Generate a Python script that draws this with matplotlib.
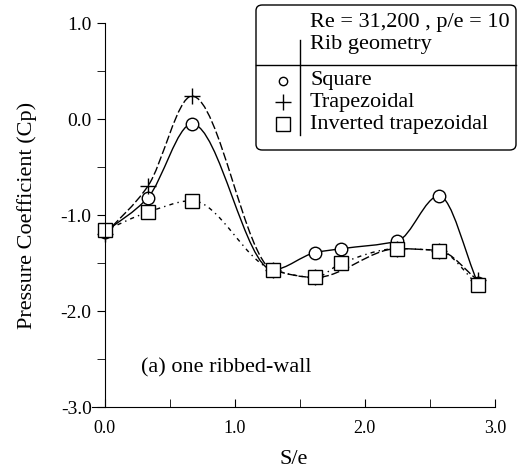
import numpy as np
import matplotlib
matplotlib.use("Agg")
import matplotlib.pyplot as plt
from matplotlib.path import Path
from matplotlib.patches import PathPatch, FancyBboxPatch
from matplotlib.lines import Line2D

plt.rcParams["font.family"] = ["Liberation Serif", "DejaVu Serif"]

# Measured pressure coefficient along the ribbed wall
se_square = [0.0, 0.33, 0.67, 1.29, 1.62, 1.82, 2.25, 2.57, 2.87]
cp_square = [-1.18, -0.82, -0.05, -1.57, -1.39, -1.35, -1.27, -0.80, -1.71]

se_trap = [0.0, 0.33, 0.67, 1.29, 1.62, 2.25, 2.57, 2.87]
cp_trap = [-1.20, -0.70, 0.24, -1.57, -1.65, -1.35, -1.37, -1.68]

se_inv = [0.0, 0.33, 0.67, 1.29, 1.62, 1.82, 2.25, 2.57, 2.87]
cp_inv = [-1.16, -0.97, -0.85, -1.57, -1.65, -1.50, -1.35, -1.37, -1.73]

series_labels = ["Square", "Trapezoidal", "Inverted trapezoidal"]


def smooth_path(x, y):
    # shape-preserving cubic segments through the points, as Bezier curves
    x = np.asarray(x, float)
    y = np.asarray(y, float)
    n = len(x)
    d = np.diff(y) / np.diff(x)
    m = np.zeros(n)
    m[0], m[-1] = d[0], d[-1]
    for i in range(1, n - 1):
        if d[i - 1] * d[i] > 0:
            w1 = 2 * (x[i + 1] - x[i]) + (x[i] - x[i - 1])
            w2 = (x[i + 1] - x[i]) + 2 * (x[i] - x[i - 1])
            m[i] = (w1 + w2) / (w1 / d[i - 1] + w2 / d[i])
    verts = [(x[0], y[0])]
    codes = [Path.MOVETO]
    for i in range(n - 1):
        dx = (x[i + 1] - x[i]) / 3.0
        verts += [(x[i] + dx, y[i] + m[i] * dx),
                  (x[i + 1] - dx, y[i + 1] - m[i + 1] * dx),
                  (x[i + 1], y[i + 1])]
        codes += [Path.CURVE4] * 3
    return Path(verts, codes)


fig = plt.figure(figsize=(5.22, 4.73), dpi=100)
ax = fig.add_axes([0.176, 0.1395, 0.772, 0.8115])

styles = [
    (se_square, cp_square, "-", "o", 9),
    (se_trap, cp_trap, (0, (6, 2)), "+", 12),
    (se_inv, cp_inv, (0, (3, 3, 1, 3)), "s", 10),
]
for x, y, ls, mk, ms in styles:
    ax.add_patch(PathPatch(smooth_path(x, y), facecolor="none",
                           edgecolor="black", lw=1.0, linestyle=ls))
    ax.plot(x, y, linestyle="none", marker=mk, ms=ms, mfc="white",
            mec="black", mew=1.0)

ax.set_xlim(-0.1, 3.0)
ax.set_ylim(-3.0, 1.0)
ax.spines["left"].set_position(("data", 0))
ax.spines["top"].set_visible(False)
ax.spines["right"].set_visible(False)
ax.set_xticks([0, 1, 2, 3])
ax.set_xticks([0.5, 1.5, 2.5], minor=True)
ax.set_yticks([-3, -2, -1, 0, 1])
ax.set_yticks([-2.5, -1.5, -0.5, 0.5], minor=True)
ax.set_xticklabels(["0.0", "1.0", "2.0", "3.0"])
ax.set_yticklabels(["-3.0", "-2.0", "-1.0", "0.0", "1.0"])
ax.tick_params(axis="x", which="both", direction="in", length=6, labelsize=13, pad=9)
ax.tick_params(axis="y", which="both", direction="out", length=6, labelsize=14)
ax.set_xlabel("S/e", fontsize=16, labelpad=10)
ax.set_ylabel("Pressure Coefficient (Cp)", fontsize=16)
ax.yaxis.set_label_coords(-0.136, 0.5)

ax.text(0.28, -2.59, "(a) one ribbed-wall", fontsize=16, va="center", ha="left")

# legend table in the upper right corner
W, H = 522.0, 473.0
def fx(px):
    return px / W
def fy(py):
    return 1 - py / H

box = FancyBboxPatch((fx(256), fy(150)), fx(516) - fx(256), fy(5) - fy(150),
                     boxstyle="round,pad=0,rounding_size=0.012",
                     transform=fig.transFigure, facecolor="white",
                     edgecolor="black", lw=1.0)
fig.patches.append(box)
fig.text(fx(310), fy(23), "Re = 31,200 , p/e = 10", fontsize=16, va="center")
fig.text(fx(310), fy(44), "Rib geometry", fontsize=16, va="center")
fig.add_artist(Line2D([fx(256), fx(516)], [fy(65), fy(65)],
                      transform=fig.transFigure, color="black", lw=1.0))
fig.add_artist(Line2D([fx(300), fx(300)], [fy(40), fy(135)],
                      transform=fig.transFigure, color="black", lw=1.0))
rows = [81, 102, 124]
legend_sizes = [6, 11, 10]
for (x, y, ls, mk, ms), label, py, lms in zip(styles, series_labels, rows, legend_sizes):
    fig.add_artist(Line2D([fx(283)], [fy(py)], transform=fig.transFigure,
                          linestyle="none", marker=mk, ms=lms, mfc="white",
                          mec="black", mew=1.0))
    fig.text(fx(310), fy(py), label, fontsize=16, va="center")

fig.savefig("out.png", dpi=100)
